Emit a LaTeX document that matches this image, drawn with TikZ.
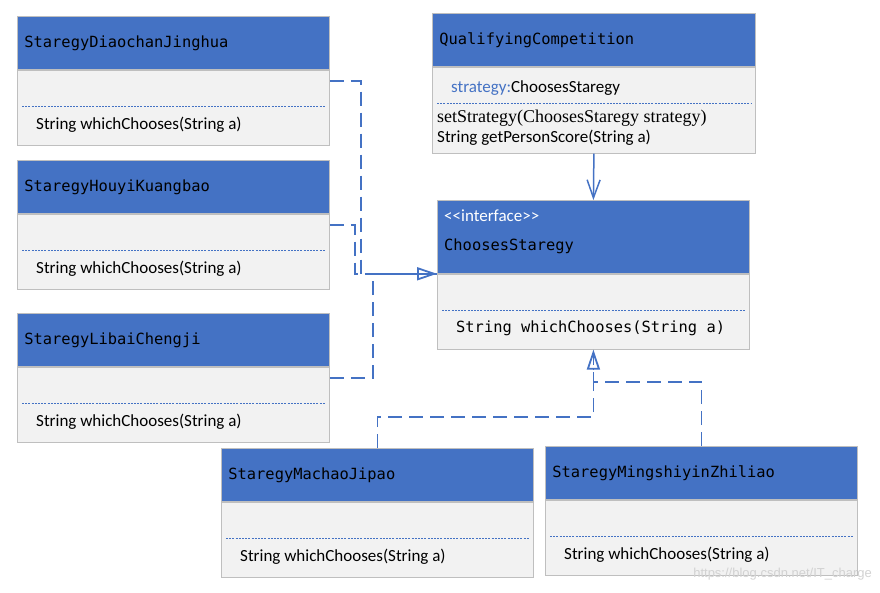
\documentclass[tikz,border=0pt]{standalone}
\usepackage{fontspec}
\usetikzlibrary{positioning,arrows.meta}
\newfontfamily\monofont{DejaVu Sans Mono}
\newfontfamily\bodyfont{Carlito}
\newfontfamily\serfont{Liberation Serif}
\definecolor{umlblue}{RGB}{68, 114, 196}
\definecolor{bodygray}{RGB}{242, 242, 242}
\definecolor{boxgray}{RGB}{191, 191, 191}
\tikzset{
    head/.style={draw=boxgray, line width=0.8pt, fill=umlblue, anchor=north west,
        minimum width=312pt, minimum height=53pt, inner sep=0pt,
        text width=298pt, align=left, font=\monofont\fontsize{15.4}{18}\selectfont},
    body/.style={draw=boxgray, line width=0.8pt, fill=bodygray,
        minimum width=312pt, minimum height=75pt, inner sep=0pt},
    sep/.style={umlblue, line width=0.9pt, dash pattern=on 2pt off 1.2pt},
    op/.style={anchor=west, inner sep=0pt, font=\bodyfont\fontsize{17}{20}\selectfont},
    link/.style={umlblue, line width=1.8pt, dash pattern=on 14pt off 7pt},
    realize/.style={link, -{Triangle[open, length=20pt, width=13pt]}},
}
\newcommand{\stratbox}[3]{
    \node(#1)[head, #2]{#3};
    \node(#1 body)[body, below=0pt of #1]{};
    \draw[sep] ([xshift=5pt, yshift=-37pt]#1 body.north west) -- ([xshift=-5pt, yshift=-37pt]#1 body.north east);
    \node(#1 op)[op] at ([xshift=19pt, yshift=-55pt]#1 body.north west) {String whichChooses(String a)};
}
\begin{document}
\begin{tikzpicture}[x=1pt, y=-1pt]
	\useasboundingbox (0,0) rectangle (880,592);
	
	\stratbox{diaochan}{at={(17,16)}}{StaregyDiaochanJinghua}
	\stratbox{houyi}{at={(17,160)}}{StaregyHouyiKuangbao}
	\stratbox{libai}{at={(17,313)}}{StaregyLibaiChengji}
	\stratbox{machao}{at={(221,448)}}{StaregyMachaoJipao}
	\stratbox{ming}{at={(545,446)}}{StaregyMingshiyinZhiliao}
	
	% context class
	\node(qc)[head, minimum width=323pt, text width=309pt, at={(432,13)}]{QualifyingCompetition};
	\node(qc body)[body, minimum width=323pt, minimum height=86pt, below=0pt of qc]{};
	\node(qc attr)[op] at ([xshift=19pt, yshift=-21pt]qc body.north west) {\textcolor{umlblue}{strategy:}ChoosesStaregy};
	\draw[sep] ([xshift=5pt, yshift=-37pt]qc body.north west) -- ([xshift=-5pt, yshift=-37pt]qc body.north east);
	\node(qc set)[op, font=\serfont\fontsize{18}{20}\selectfont] at ([xshift=5pt, yshift=-51pt]qc body.north west) {setStrategy(ChoosesStaregy strategy)};
	\node(qc get)[op] at ([xshift=5pt, yshift=-71pt]qc body.north west) {String getPersonScore(String a)};
	
	% interface
	\node(iface)[head, minimum height=73pt, at={(437,200)}]{};
	\node(iface st)[op, text=white] at ([xshift=7pt, yshift=-16pt]iface.north west) {<{}<interface>{}>};
	\node(iface name)[op, font=\monofont\fontsize{15.4}{18}\selectfont] at ([xshift=7pt, yshift=-46pt]iface.north west) {ChoosesStaregy};
	\node(iface body)[body, below=0pt of iface]{};
	\draw[sep] ([xshift=5pt, yshift=-37pt]iface body.north west) -- ([xshift=-5pt, yshift=-37pt]iface body.north east);
	\node(iface op)[op, font=\monofont\fontsize{15.4}{18}\selectfont] at ([xshift=19pt, yshift=-54pt]iface body.north west) {String whichChooses(String a)};
	
	\draw[umlblue, line width=1.5pt, -{Straight Barb[length=18pt, width=13pt]}] (qc body.south) -- (iface.north);
	
	\coordinate (diaochan out) at ([yshift=-11pt]diaochan body.north east);
	\coordinate (houyi out) at ([yshift=-11pt]houyi body.north east);
	\coordinate (libai out) at ([yshift=-11pt]libai body.north east);
	
	\draw[link] (houyi out) -| ([xshift=-82pt]iface.south west) -- (iface.south west);
	\draw[link] (libai out) -| ([xshift=-64pt]iface.south west) -- (iface.south west);
	\draw[realize] (diaochan out) -| ([xshift=-76pt]iface.south west) -- (iface.south west);
	
	\draw[link] (ming.north) |- ([yshift=-32pt]iface body.south) -- (iface body.south);
	\draw[realize] (machao.north) |- ([yshift=-67pt]iface body.south) -- (iface body.south);
	
	\node(mark)[anchor=east, inner sep=0pt, text=gray!35, font=\fontspec{Liberation Sans}\fontsize{13}{15}\selectfont] at (872,574) {https://blog.csdn.net/IT\_charge};
\end{tikzpicture}
\end{document}
